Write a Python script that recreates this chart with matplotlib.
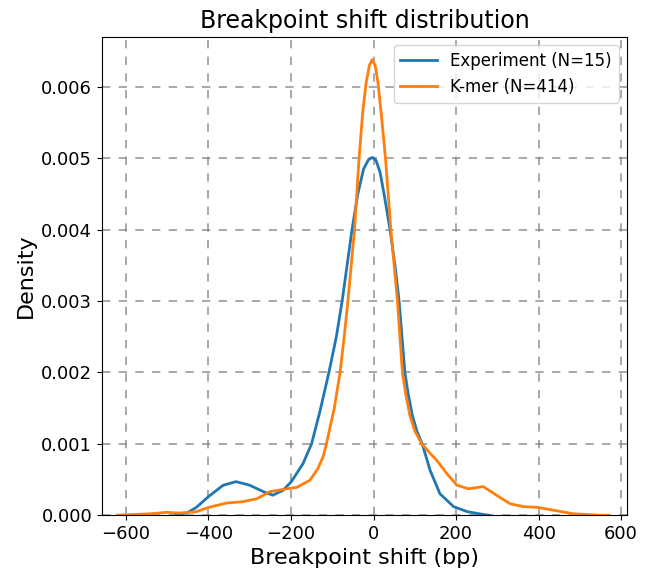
import matplotlib
matplotlib.use("Agg")
import matplotlib.pyplot as plt

# curve values (density in units of 1e-3)
exp_x = [-480, -469, -450, -429, -400, -364, -333, -300, -267, -244, -219,
         -199, -171, -150, -130, -108, -90, -76, -64, -52, -38, -24, -12,
         -3, 6, 16, 27, 40, 52, 62, 69, 76, 84, 94, 105, 118, 137, 161, 194,
         227, 266, 280]
exp_y = [0.0, 0.01, 0.04, 0.11, 0.26, 0.42, 0.47, 0.42, 0.33, 0.28, 0.35,
         0.47, 0.72, 1.00, 1.45, 2.00, 2.50, 3.00, 3.50, 4.00, 4.50, 4.85, 4.98,
         5.01, 4.97, 4.80, 4.45, 4.00, 3.50, 3.00, 2.50, 2.00, 1.70, 1.40, 1.18,
         1.00, 0.63, 0.30, 0.12, 0.05, 0.01, 0.0]

kmer_x = [-620, -580, -540, -501, -470, -429, -399, -356, -316, -283, -251,
          -210, -186, -154, -135, -122, -114, -95, -81, -71, -62, -54, -46,
          -35, -26, -18, -10, -3, 4, 11, 20, 29, 42, 50, 58, 64, 70, 78, 88,
          100, 117, 135, 153, 178, 202, 230, 266, 298, 331, 363, 397, 436, 484,
          549, 570]
kmer_y = [0.0, 0.01, 0.02, 0.04, 0.03, 0.05, 0.11, 0.17, 0.19, 0.23, 0.33,
          0.37, 0.39, 0.49, 0.65, 0.82, 1.00, 1.50, 2.00, 2.50, 3.00, 3.50, 4.00,
          5.00, 5.65, 6.05, 6.30, 6.38, 6.30, 6.05, 5.55, 5.00, 4.00, 3.50, 3.00,
          2.50, 2.00, 1.70, 1.40, 1.18, 1.00, 0.88, 0.77, 0.58, 0.42, 0.37, 0.40,
          0.28, 0.16, 0.12, 0.11, 0.07, 0.02, 0.0, 0.0]

labels = ["Experiment (N=15)", "K-mer (N=414)"]

fig = plt.figure(figsize=(6.45, 5.75), dpi=100)
ax = fig.add_axes([0.158, 0.104, 0.814, 0.832])

ax.plot(exp_x, [v / 1000 for v in exp_y], color="tab:blue", lw=2, label=labels[0])
ax.plot(kmer_x, [v / 1000 for v in kmer_y], color="tab:orange", lw=2, label=labels[1])

ax.set_xlim(-658, 614)
ax.set_ylim(0, 0.0067)
ax.set_xticks([-600, -400, -200, 0, 200, 400, 600])
ax.set_yticks([0.000, 0.001, 0.002, 0.003, 0.004, 0.005, 0.006])
ax.tick_params(labelsize=13)
ax.grid(True, linestyle=(0, (5, 5)), color="gray", linewidth=1.2, alpha=0.8)

ax.set_title("Breakpoint shift distribution", fontsize=17)
ax.set_xlabel("Breakpoint shift (bp)", fontsize=16)
ax.set_ylabel("Density", fontsize=16)
ax.legend(loc="upper right", fontsize=12, handlelength=2.2)

fig.savefig("out.png", dpi=100)
